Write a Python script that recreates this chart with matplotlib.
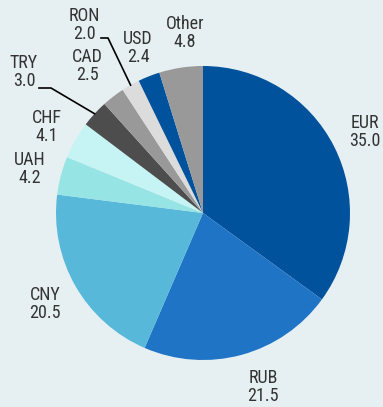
import matplotlib.pyplot as plt
import numpy as np

currencies = ["EUR", "RUB", "CNY", "UAH", "CHF", "TRY", "CAD", "RON", "USD", "Other"]
shares = [35.0, 21.5, 20.5, 4.2, 4.1, 3.0, 2.5, 2.0, 2.4, 4.8]
colors = ["#00529c", "#2074c6", "#58b8da", "#97e4e4", "#c6f3f3",
          "#4d4d4d", "#999999", "#dcdcdc", "#00529c", "#999999"]

# label anchor (pixel space, origin bottom-left)
label_pos = [(365, 275), (263, 20), (45, 103), (30, 238), (47, 280),
             (24, 335), (87, 341), (84, 382), (138, 359), (185, 374)]
# leader lines: x start, x elbow, y level
leaders = {"TRY": (39, 51, 319), "RON": (101, 108, 369)}

plt.rcParams['font.family'] = ['Roboto Condensed', 'DejaVu Sans']
bg = "#e6f0f3"
fig = plt.figure(figsize=(3.83, 4.07), dpi=100, facecolor=bg)
ax = fig.add_axes([0, 0, 1, 1])
ax.set_facecolor(bg)

cx, cy, r = 203, 194, 147
wedges, _ = ax.pie(shares, colors=colors, startangle=90, counterclock=False,
                   center=(cx, cy), radius=r, wedgeprops=dict(linewidth=0))
ax.set_xlim(0, 383)
ax.set_ylim(0, 407)
ax.axis('off')

for name, val, (tx, ty), w in zip(currencies, shares, label_pos, wedges):
    ax.text(tx, ty, f"{name}\n{val:.1f}", ha='center', va='center',
            fontsize=13, color="#333333", linespacing=0.95)
    if name in leaders:
        ang = np.deg2rad((w.theta1 + w.theta2) / 2)
        ex, ey = cx + r * np.cos(ang), cy + r * np.sin(ang)
        x0, x1, ly = leaders[name]
        ax.plot([x0, x1, ex], [ly, ly, ey], color="black", lw=1.2)

fig.savefig("out.png", dpi=100, facecolor=bg)
